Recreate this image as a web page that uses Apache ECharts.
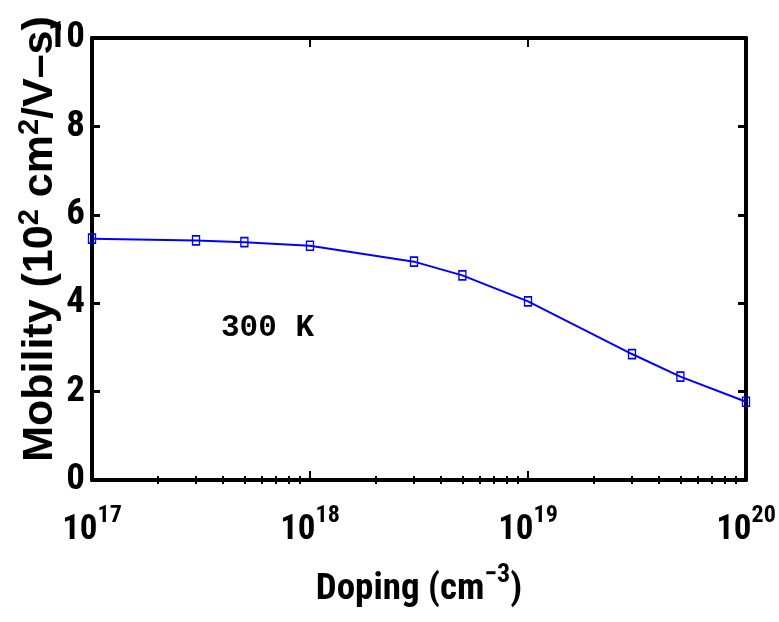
<!DOCTYPE html>
<html>
<head>
<meta charset="utf-8">
<script src="https://cdn.jsdelivr.net/npm/echarts@6/dist/echarts.min.js"></script>
<style>
  html, body { margin: 0; padding: 0; background: #fff; }
  #main { width: 779px; height: 622px; }
</style>
</head>
<body>
<div id="main"></div>
<script>
// doping (cm^-3) and mobility (10^2 cm^2/V-s)
var doping = [1e17, 3e17, 5e17, 1e18, 3e18, 5e18, 1e19, 3e19, 5e19, 1e20];
var mobility = [5.46, 5.42, 5.38, 5.30, 4.94, 4.63, 4.04, 2.85, 2.34, 1.77];
var decades = [1e17, 1e18, 1e19, 1e20];
var yTicks = [0, 2, 4, 6, 8, 10];

// minor log ticks 2..9 inside each decade
var minorTicks = [];
for (var d = 0; d < decades.length - 1; d++) {
    for (var m = 2; m <= 9; m++) {
        minorTicks.push(decades[d] * m);
    }
}

var narrow = "Roboto Condensed, sans-serif";
var wide = "Liberation Sans, Arial, sans-serif";
var black = '#000';

var mychart = echarts.init(document.getElementById('main'));

function logAxis(pos, opts) {
    var ax = {
        type: 'log',
        logBase: 10,
        position: pos,
        min: 1e17,
        max: 1e20,
        splitLine: { show: false },
        axisLine: { show: false },
        axisLabel: { show: false },
        axisTick: { show: false }
    };
    for (var k in opts) ax[k] = opts[k];
    return ax;
}

var option = {
    backgroundColor: '#fff',
    animation: false,
    grid: { left: 92, right: 33, top: 38, bottom: 142, outerBoundsMode: 'none', containLabel: false },
    xAxis: [
        logAxis('bottom', {
            axisLine: { show: true, onZero: false, lineStyle: { color: black, width: 4 } },
            axisTick: { show: true, inside: true, length: 9, customValues: decades, lineStyle: { color: black, width: 2 } },
            axisLabel: {
                show: true,
                margin: 24,
                customValues: decades,
                formatter: function(v) {
                    return '{b|10}{sup|' + Math.round(Math.log10(v)) + '}';
                },
                rich: {
                    b: { fontFamily: narrow, fontSize: 35, fontWeight: 'bold', color: black, verticalAlign: 'bottom' },
                    sup: { fontFamily: narrow, fontSize: 24, fontWeight: 'bold', color: black, verticalAlign: 'bottom', padding: [0, 0, 20, 0] }
                }
            },
            name: '{b|Doping (cm}{sup|\u22123}{b|)}',
            nameLocation: 'middle',
            nameGap: 82,
            nameMoveOverlap: false,
            nameTextStyle: {
                rich: {
                    b: { fontFamily: narrow, fontSize: 37, fontWeight: 'bold', color: black, verticalAlign: 'bottom' },
                    sup: { fontFamily: narrow, fontSize: 26, fontWeight: 'bold', color: black, verticalAlign: 'bottom', padding: [0, 0, 20, 0] }
                }
            }
        }),
        logAxis('bottom', {
            axisTick: { show: true, inside: true, length: 4, customValues: minorTicks, lineStyle: { color: black, width: 2 } }
        }),
        logAxis('top', {
            axisLine: { show: true, onZero: false, lineStyle: { color: black, width: 4 } },
            axisTick: { show: true, inside: true, length: 9, customValues: decades, lineStyle: { color: black, width: 2 } }
        }),
        logAxis('top', {
            axisTick: { show: true, inside: true, length: 4, customValues: minorTicks, lineStyle: { color: black, width: 2 } }
        })
    ],
    yAxis: [{
        type: 'value',
        position: 'left',
        min: 0,
        max: 10,
        interval: 2,
        splitLine: { show: false },
        axisLine: { show: true, onZero: false, lineStyle: { color: black, width: 4 } },
        axisTick: { show: true, inside: true, length: 8, lineStyle: { color: black, width: 3 } },
        axisLabel: {
            margin: 7,
            fontFamily: narrow,
            fontSize: 37,
            fontWeight: 'bold',
            color: black,
            formatter: function(v) { return yTicks.indexOf(v) >= 0 ? String(v) : ''; }
        },
        name: '{b|Mobility (10}{sup|2}{b| cm}{sup|2}{b|/V\u2013s)}',
        nameLocation: 'middle',
        nameRotate: 90,
        nameGap: 30,
        nameMoveOverlap: false,
        nameTextStyle: {
            padding: [0, 0, 0, 40],
            rich: {
                b: { fontFamily: wide, fontSize: 43, fontWeight: 'bold', color: black, verticalAlign: 'bottom' },
                sup: { fontFamily: wide, fontSize: 29, fontWeight: 'bold', color: black, verticalAlign: 'bottom', padding: [0, 0, 18, 0] }
            }
        }
    }, {
        type: 'value',
        position: 'right',
        min: 0,
        max: 10,
        interval: 2,
        splitLine: { show: false },
        axisLine: { show: true, onZero: false, lineStyle: { color: black, width: 4 } },
        axisTick: { show: true, inside: true, length: 8, lineStyle: { color: black, width: 3 } },
        axisLabel: { show: false }
    }],
    graphic: [{
        type: 'text',
        left: 221,
        top: 313,
        style: {
            text: '300 K',
            fontFamily: "Liberation Mono, Courier New, monospace",
            fontSize: 31,
            fontWeight: 'bold',
            fill: black
        }
    }],
    series: [{
        type: 'line',
        xAxisIndex: 0,
        yAxisIndex: 0,
        data: doping.map(function(x, i) { return [x, mobility[i]]; }),
        symbol: 'rect',
        symbolSize: [7, 9],
        showAllSymbol: true,
        lineStyle: { color: '#0000ff', width: 2 },
        itemStyle: { color: 'rgba(255,255,255,0)', borderColor: '#0000ff', borderWidth: 1.5 },
        z: 10
    }]
};

mychart.setOption(option);
</script>
</body>
</html>
